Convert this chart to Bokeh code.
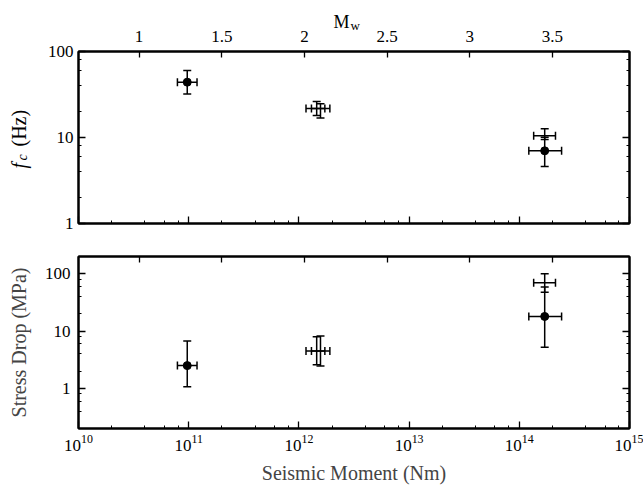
import numpy as np
from bokeh.plotting import figure
from bokeh.models import (ColumnDataSource, Whisker, TeeHead, LogAxis, LinearAxis, Range1d,
                          LinearScale, FixedTicker, LogTicker, CustomJSTickFormatter, Label)
from bokeh.layouts import column
from bokeh.embed import file_html
from bokeh.resources import INLINE

# ---- data ----
moment_filled = [9.7e10, 1.70e14]
moment_filled_lo = [7.9e10, 1.22e14]
moment_filled_hi = [1.19e11, 2.42e14]
fc_filled = [44.0, 7.0]
fc_filled_lo = [32.0, 4.6]
fc_filled_hi = [60.0, 10.1]
sd_filled = [2.5, 18.0]
sd_filled_lo = [1.07, 5.2]
sd_filled_hi = [6.7, 59.0]

moment_open = [1.45e12, 1.57e12, 1.70e14]
moment_open_lo = [1.16e12, 1.30e12, 1.35e14]
moment_open_hi = [1.72e12, 1.91e12, 2.13e14]
fc_open = [21.7, 21.7, 10.5]
fc_open_lo = [18.0, 16.9, 9.5]
fc_open_hi = [26.2, 24.7, 12.6]
sd_open = [4.5, 4.5, 69.5]
sd_open_lo = [2.6, 2.45, 47.7]
sd_open_hi = [8.0, 8.2, 100.0]

mw_ticks = [1, 1.5, 2, 2.5, 3, 3.5]
moment_range = (1e10, 1e15)
fc_range = (1, 100)
sd_range = (0.2, 200)
MW_OFFSET = 9.05  # Mw = 2/3 (log10 M0 - 9.05)

FONT = "Liberation Serif"
mw_range = ((np.log10(moment_range[0]) - MW_OFFSET) * 2 / 3,
            (np.log10(moment_range[1]) - MW_OFFSET) * 2 / 3)

plain = CustomJSTickFormatter(code="return tick.toString()")
empty = CustomJSTickFormatter(code="return ''")

BORDER_LEFT = 77
BORDER_RIGHT = 15
TOP1 = 51


def style_axis(ax, show_labels=True, tick_in=7):
    ax.axis_line_color = "black"
    ax.axis_line_width = 2
    ax.major_tick_in = tick_in
    ax.major_tick_out = 0
    ax.minor_tick_in = 3
    ax.minor_tick_out = 0
    ax.major_tick_line_color = "black"
    ax.minor_tick_line_color = "black"
    ax.major_tick_line_width = 1.3
    ax.minor_tick_line_width = 1
    ax.major_label_text_font = FONT
    ax.major_label_text_font_size = "17px"
    ax.major_label_text_color = "black"
    if not show_labels:
        ax.formatter = empty
        ax.major_label_standoff = 0
        ax.major_label_text_font_size = "0px"
    return ax


def make_panel(y_range, top_labels, bottom_labels, mb_top, mb_bottom, left_standoff):
    p = figure(x_axis_type="log", y_axis_type="log",
               x_range=Range1d(*moment_range), y_range=Range1d(*y_range),
               frame_width=551, frame_height=172,
               min_border_left=BORDER_LEFT, min_border_right=BORDER_RIGHT,
               min_border_top=mb_top, min_border_bottom=mb_bottom,
               x_axis_location=None, y_axis_location=None,
               output_backend="svg", toolbar_location=None)
    p.outline_line_color = "black"
    p.outline_line_width = 2
    p.xgrid.visible = False
    p.ygrid.visible = False
    p.background_fill_color = "white"
    p.border_fill_color = "white"
    p.extra_x_ranges = {"mw": Range1d(*mw_range)}
    p.extra_x_scales = {"mw": LinearScale()}

    bx = style_axis(LogAxis(ticker=LogTicker()), show_labels=bottom_labels)
    if bottom_labels:
        bx.major_label_standoff = 6
    p.add_layout(bx, "below")

    ly = style_axis(LogAxis(ticker=LogTicker(), formatter=plain))
    ly.major_label_standoff = left_standoff
    p.add_layout(ly, "left")

    ry = style_axis(LogAxis(ticker=LogTicker()), show_labels=False)
    p.add_layout(ry, "right")

    tx = style_axis(LinearAxis(x_range_name="mw",
                               ticker=FixedTicker(ticks=mw_ticks, minor_ticks=[])),
                    show_labels=top_labels, tick_in=6)
    if top_labels:
        tx.formatter = plain
        tx.major_label_standoff = 10
    p.add_layout(tx, "above")
    return p, bx, ly


def add_points(p, y, ylo, yhi, yo, yolo, yohi):
    for mx, mlo, mhi, yy, yl, yh in ((moment_filled, moment_filled_lo, moment_filled_hi, y, ylo, yhi),
                                     (moment_open, moment_open_lo, moment_open_hi, yo, yolo, yohi)):
        src = ColumnDataSource(dict(x=mx, xl=mlo, xh=mhi, y=yy, yl=yl, yh=yh))
        p.add_layout(Whisker(source=src, base="x", lower="yl", upper="yh", dimension="height",
                             line_color="black", line_width=1.5,
                             lower_head=TeeHead(size=8, line_width=1.5, line_color="black"),
                             upper_head=TeeHead(size=8, line_width=1.5, line_color="black")))
        p.add_layout(Whisker(source=src, base="y", lower="xl", upper="xh", dimension="width",
                             line_color="black", line_width=1.5,
                             lower_head=TeeHead(size=8, line_width=1.5, line_color="black"),
                             upper_head=TeeHead(size=8, line_width=1.5, line_color="black")))
    p.scatter(moment_filled, y, size=8, color="black")


# top panel: corner frequency
p1, _, _ = make_panel(fc_range, top_labels=True, bottom_labels=False, mb_top=TOP1,
                      mb_bottom=24, left_standoff=5)
add_points(p1, fc_filled, fc_filled_lo, fc_filled_hi, fc_open, fc_open_lo, fc_open_hi)

# axis titles with sub-scripts, in canvas pixels of the top figure; each one sits in a
# side panel that still has free room, so that it is drawn outside the plotting frame
lab_kw = dict(x_units="canvas", y_units="canvas", text_color="black", text_font=FONT)
p1.add_layout(Label(x=18, y=168, text="f", angle=np.pi / 2,
                    text_font_style="italic", text_font_size="20px",
                    text_baseline="middle", text_align="left", **lab_kw), "left")
p1.add_layout(Label(x=18, y=146, text="(Hz)", angle=np.pi / 2,
                    text_font_style="normal", text_font_size="20px",
                    text_baseline="middle", text_align="left", **lab_kw), "left")
p1.add_layout(Label(x=22, y=160, text="c", angle=np.pi / 2,
                    text_font_style="italic", text_font_size="14px",
                    text_baseline="middle", text_align="left", **lab_kw), "above")
p1.add_layout(Label(x=333, y=21, text="M", text_font_size="18px",
                    text_font_style="normal", text_baseline="alphabetic", text_align="left",
                    **lab_kw), "below")
p1.add_layout(Label(x=350, y=25, text="w", text_font_size="13px",
                    text_font_style="normal", text_baseline="alphabetic", text_align="left",
                    **lab_kw), "right")

# bottom panel: stress drop
p2, bx2, ly2 = make_panel(sd_range, top_labels=False, bottom_labels=True, mb_top=9,
                          mb_bottom=56, left_standoff=8)
add_points(p2, sd_filled, sd_filled_lo, sd_filled_hi, sd_open, sd_open_lo, sd_open_hi)
ly2.axis_label = "Stress Drop (MPa)"
ly2.axis_label_text_font = FONT
ly2.axis_label_text_font_style = "normal"
ly2.axis_label_text_font_size = "20px"
ly2.axis_label_standoff = 12
bx2.axis_label = "Seismic Moment (Nm)"
bx2.axis_label_text_font = FONT
bx2.axis_label_text_font_style = "normal"
bx2.axis_label_text_font_size = "20px"
bx2.axis_label_standoff = 8

layout = column(p1, p2, spacing=0)
open("out.html", "w").write(file_html(layout, INLINE))
